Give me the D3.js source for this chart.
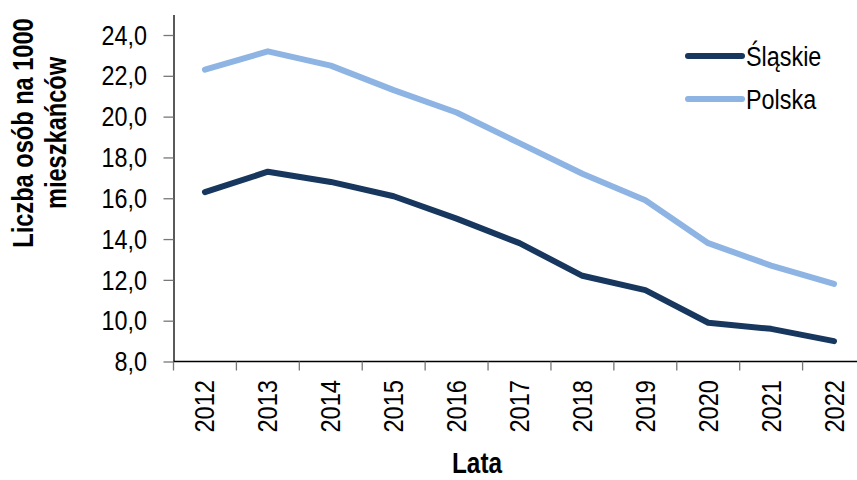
<!DOCTYPE html>
<html><head><meta charset="utf-8">
<script src="https://cdn.jsdelivr.net/npm/d3@7/dist/d3.min.js"></script>
<style>
body{margin:0;background:#fff;}
text{font-family:"Liberation Sans Narrow","Arial Narrow","Liberation Sans",Arial,sans-serif;fill:#000;}
</style></head>
<body><svg id="c" width="857" height="480"></svg>
<script>
const years = ["2012","2013","2014","2015","2016","2017","2018","2019","2020","2021","2022"];
const slaskie = [16.3,17.3,16.8,16.1,15.0,13.8,12.2,11.5,9.9,9.6,9.0];
const polska = [22.3,23.2,22.5,21.3,20.2,18.7,17.2,15.9,13.8,12.7,11.8];
const yTicks = [8,10,12,14,16,18,20,22,24];
const seriesNames = ["Śląskie","Polska"];
const colors = ["#17375E","#8DB4E3"];
const SX = 0.82; // horizontal condensing (Arial Narrow look)

const svg = d3.select("#c");
const x = d3.scaleBand().domain(years).range([173.5, 865.5]);
const y = d3.scaleLinear().domain([8,25]).range([361.5, 14.6]);
const fmt = d => d.toFixed(1).replace(".", ",");

// y axis
const ya = svg.append("g").attr("transform","translate(173.5,0)")
  .call(d3.axisLeft(y).tickValues(yTicks).tickFormat(fmt).tickSize(10).tickPadding(6).tickSizeOuter(0));
ya.select(".domain").attr("stroke","#000").attr("stroke-width",1.3);
ya.selectAll(".tick line").attr("stroke","#777").attr("stroke-width",1.3);
ya.selectAll(".tick text").style("font-size","28.5px").attr("fill","#000")
  .attr("x", -26.5/SX).attr("transform",`scale(${SX},1)`);

// x axis
const xa = svg.append("g").attr("transform","translate(0,361.5)");
xa.append("line").attr("x1",173.5).attr("x2",857).attr("stroke","#000").attr("stroke-width",1.3);
const edges = years.map(d => x(d)).concat([x(years[years.length-1]) + x.bandwidth()]);
xa.selectAll("line.t").data(edges.filter(e => e <= 857)).enter().append("line")
  .attr("class","t").attr("x1",d=>d).attr("x2",d=>d).attr("y1",0).attr("y2",9)
  .attr("stroke","#777").attr("stroke-width",1.3);
xa.selectAll("text").data(years).enter().append("text")
  .attr("transform", d => `translate(${x(d)+x.bandwidth()/2+9.5},18.5) rotate(-90) scale(0.83,1)`)
  .attr("text-anchor","end").style("font-size","28.5px").text(d=>d);

// lines
const line = d3.line().x((d,i)=>x(years[i])+x.bandwidth()/2).y(d=>y(d));
[slaskie, polska].forEach((s,k)=>{
  svg.append("path").datum(s).attr("d",line).attr("fill","none")
    .attr("stroke",colors[k]).attr("stroke-width",6).attr("stroke-linecap","round").attr("stroke-linejoin","round");
});

// legend
const lg = svg.append("g");
seriesNames.forEach((n,k)=>{
  const ly = 56 + k*43;
  lg.append("line").attr("x1",688).attr("x2",742).attr("y1",ly).attr("y2",ly)
    .attr("stroke",colors[k]).attr("stroke-width",6).attr("stroke-linecap","round");
  lg.append("text").attr("transform",`translate(746,${ly+9.5}) scale(0.85,1)`)
    .style("font-size","27.5px").text(n);
});

// titles
const yt = svg.append("text").attr("transform",`translate(33,133) rotate(-90) scale(0.8,1)`)
  .attr("text-anchor","middle").style("font-size","29.5px").style("font-weight","bold");
yt.append("tspan").attr("x",0).attr("y",0).text("Liczba osób na 1000");
yt.append("tspan").attr("x",0).attr("y",33.5).text("mieszkańców");
svg.append("text").attr("transform",`translate(477,473) scale(0.84,1)`).attr("text-anchor","middle")
  .style("font-size","29px").style("font-weight","bold").text("Lata");
</script></body></html>
